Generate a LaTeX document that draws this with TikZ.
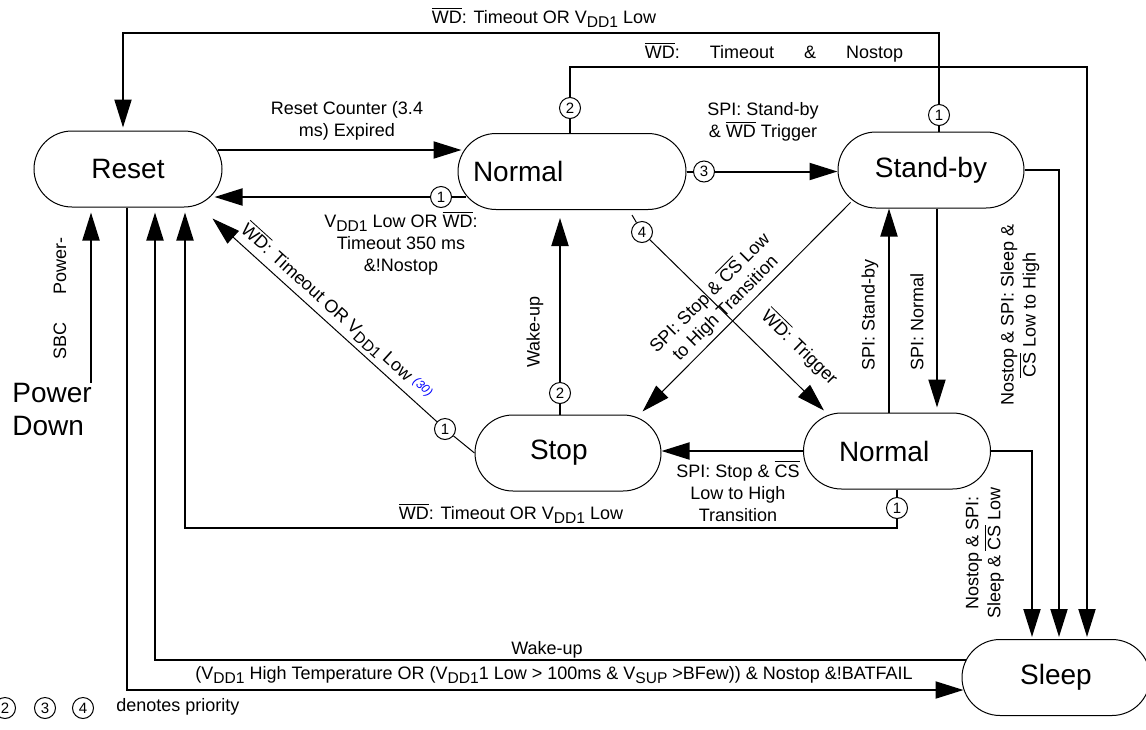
\documentclass[tikz,border=0pt]{standalone}
\usepackage{fontspec}
\setmainfont{Liberation Sans}
\usetikzlibrary{arrows.meta, calc}

\newcommand{\nWD}{$\overline{\mbox{WD}}$}
\newcommand{\nCS}{$\overline{\mbox{CS}}$}
\newcommand{\subx}[1]{\raisebox{-0.4ex}{\fontsize{7.8}{8}\selectfont #1}}
\newcommand{\VDD}{V\subx{DD1}}

\begin{document}
\begin{tikzpicture}[
    x=0.5pt, y=-0.5pt,
    >={Triangle[length=14pt, width=8.5pt]},
    state/.style={rectangle, draw, line width=0.5pt, rounded corners=19pt,
                  minimum width=94pt, minimum height=38pt,
                  font=\fontsize{14}{16}\selectfont},
    prio/.style={circle, draw, line width=0.5pt, fill=white, inner sep=0pt,
                 minimum size=10.5pt, font=\fontsize{7.5}{8}\selectfont},
    lbl/.style={align=center, inner sep=1pt, font=\fontsize{9}{11}\selectfont},
    conn/.style={line width=1pt},
    thinln/.style={line width=0.5pt}
]
    \useasboundingbox (0,0) rectangle (1146,729);

    % states
    \node[state] (reset) at (128,169) {Reset};
    \node[state, minimum width=114pt, text width=99pt, align=left] (norm) at (572,171.5) {Normal};
    \node[state, minimum width=93pt] (stby) at (931,170) {Stand-by};
    \node[state, minimum width=93pt, text width=38pt, align=left] (stop) at (568,453) {Stop};
    \node[state, minimum width=93.5pt, text width=58pt, align=left] (normb) at (897,451) {Normal};
    \node[state] (sleep) at (1056,677.5) {Sleep};
    \node[align=left, inner sep=0pt, font=\fontsize{14}{16.5}\selectfont,
          anchor=north west] (pwr) at (12,383) {Power\\Down};

    % priorities
    \node[prio] (p1t) at (939,115) {1};
    \node[prio] (p2t) at (570,108) {2};
    \node[prio] (p3)  at (704,171.5) {3};
    \node[prio] (p1n) at (441,197) {1};
    \node[prio] (p4)  at (642,232) {4};
    \node[prio] (p2s) at (560,393) {2};
    \node[prio] (p1s) at (445,429) {1};
    \node[prio] (p1b) at (897,508) {1};

    % Reset <-> Normal
    \draw[conn, ->] ($(reset.east)+(-5,-19)$) -- ($(norm.west)+(4,-21.5)$);
    \node[lbl] (lrn) at (347,121) {Reset Counter (3.4\\ms) Expired};
    \draw[conn] ($(norm.west)+(8,25.5)$) -- (p1n);
    \draw[conn, ->] (p1n) -- ($(reset.east)+(-8,28)$);
    \node[lbl] (lnr) at (401,243) {\VDD{} Low OR \nWD:\\Timeout 350 ms\\\&!Nostop};

    % Stand-by -> Reset (top)
    \draw[conn] (stby.north -| p1t) -- (p1t);
    \draw[conn, ->] (p1t) -- (p1t |- 0,33) -| ($(reset.north)+(-5,-3)$);
    \node[lbl] (ltop) at (544,17) {\nWD: Timeout OR \VDD{} Low};

    % Normal -> Sleep (top)
    \draw[conn] (norm.north -| p2t) -- (p2t);
    \draw[conn, ->] (p2t) -- (p2t |- 0,67) -| ($(sleep.north)+(31,-2)$);
    \node[lbl] (lns) at (774,52) {\nWD:\hspace{15pt}Timeout\hspace{15pt}\&\hspace{15pt}Nostop};

    % Normal -> Stand-by
    \draw[conn] (norm.east) -- (p3);
    \draw[conn, ->] (p3) -- (p3 -| stby.west);
    \node[lbl] (lnsb) at (763,122) {SPI: Stand-by\\\& \nWD{} Trigger};

    % Stop -> Normal
    \draw[conn] (stop.north -| p2s) -- (p2s);
    \draw[conn, ->] (p2s) -- ($(norm.south)+(-12,8)$);
    \node[lbl, rotate=90] (lwk) at (535,332) {Wake-up};

    % Stop -> Reset
    \draw[thinln] (stop.west) -- (p1s);
    \draw[thinln, ->] (p1s) -- ($(reset.south east)+(-10,11)$);
    \node[lbl, rotate=-42.2] (lsr) at (337,311) {\nWD: Timeout OR \VDD{} Low
        \raisebox{2pt}{\color{blue}\itshape\fontsize{6}{7}\selectfont(30)}};

    % Normal -> Normal
    \draw[thinln] ($(norm.south)+(60,5)$) -- (p4);
    \draw[thinln, ->] (p4) -- ($(normb.north west)+(21,-2)$);
    \node[lbl, rotate=-44.2] (ltrg) at (800,347) {\nWD: Trigger};

    % Stand-by -> Stop
    \draw[thinln, ->] ($(stby.south west)+(13,-6)$) -- ($(stop.north east)+(-19,-3)$);
    \node[lbl, rotate=45] (lbs) at (717,300) {SPI: Stop \& \nCS{} Low\\to High Transition};

    % Normal <-> Stand-by
    \draw[conn, ->] ($(normb.north)+(-8,0)$) -- ($(stby.south)+(-42,0)$);
    \node[lbl, rotate=90] (lsb) at (870,315) {SPI: Stand-by};
    \draw[conn, ->] ($(stby.south)+(6,0)$) -- ($(normb.north)+(40,-5)$);
    \node[lbl, rotate=90] (lsn) at (917,322) {SPI: Normal};

    % Normal -> Stop
    \draw[conn, ->] (normb.west) -- (normb.west -| stop.east);
    \node[lbl] (lst) at (738,491) {SPI: Stop \& \nCS\\Low to High\\Transition};

    % Normal -> Reset
    \draw[conn] (normb.south) -- (p1b);
    \draw[conn, ->] (p1b) -- (p1b |- 0,528) -| ($(reset.south)+(57,5)$);
    \node[lbl] (lbr) at (511,513) {\nWD: Timeout OR \VDD{} Low};

    % -> Sleep
    \draw[conn, ->] (normb.east) -| ($(sleep.north)+(-24,-2)$);
    \node[lbl, rotate=90] (lnsl) at (985,553) {Nostop \& SPI:\\Sleep \& \nCS{} Low};
    \draw[conn, ->] (stby.east) -| ($(sleep.north)+(3,-2)$);
    \node[lbl, rotate=90] (lssl) at (1020,315) {Nostop \& SPI: Sleep \&\\\nCS{} Low to High};

    % Sleep <-> Reset
    \draw[conn, ->] ($(sleep.west)+(4,-17.5)$) -| ($(reset.south)+(27,5)$);
    \node[lbl] (lwk2) at (547,650) {Wake-up};
    \draw[conn, ->] ($(reset.south)+(-1,0)$) |- ($(sleep.west)+(2,12.5)$);
    \node[lbl] (lrs) at (554,675) {(\VDD{} High Temperature OR (\VDD1 Low > 100ms \& V\subx{SUP} >BFew)) \& Nostop \&!BATFAIL};

    % Power Down -> Reset
    \draw[conn, ->] (pwr.north -| 91,0) -- ($(reset.south)+(-37,5)$);
    \node[lbl, rotate=90] (lsbc) at (60,298) {SBC\hspace{14pt}Power-};

    % legend
    \node[prio] (l2) at (5,708) {2};
    \node[prio] (l3) at (45,708) {3};
    \node[prio] (l4) at (83,708) {4};
    \node[lbl, anchor=west] (lleg) at (114,707) {denotes priority};
\end{tikzpicture}
\end{document}
